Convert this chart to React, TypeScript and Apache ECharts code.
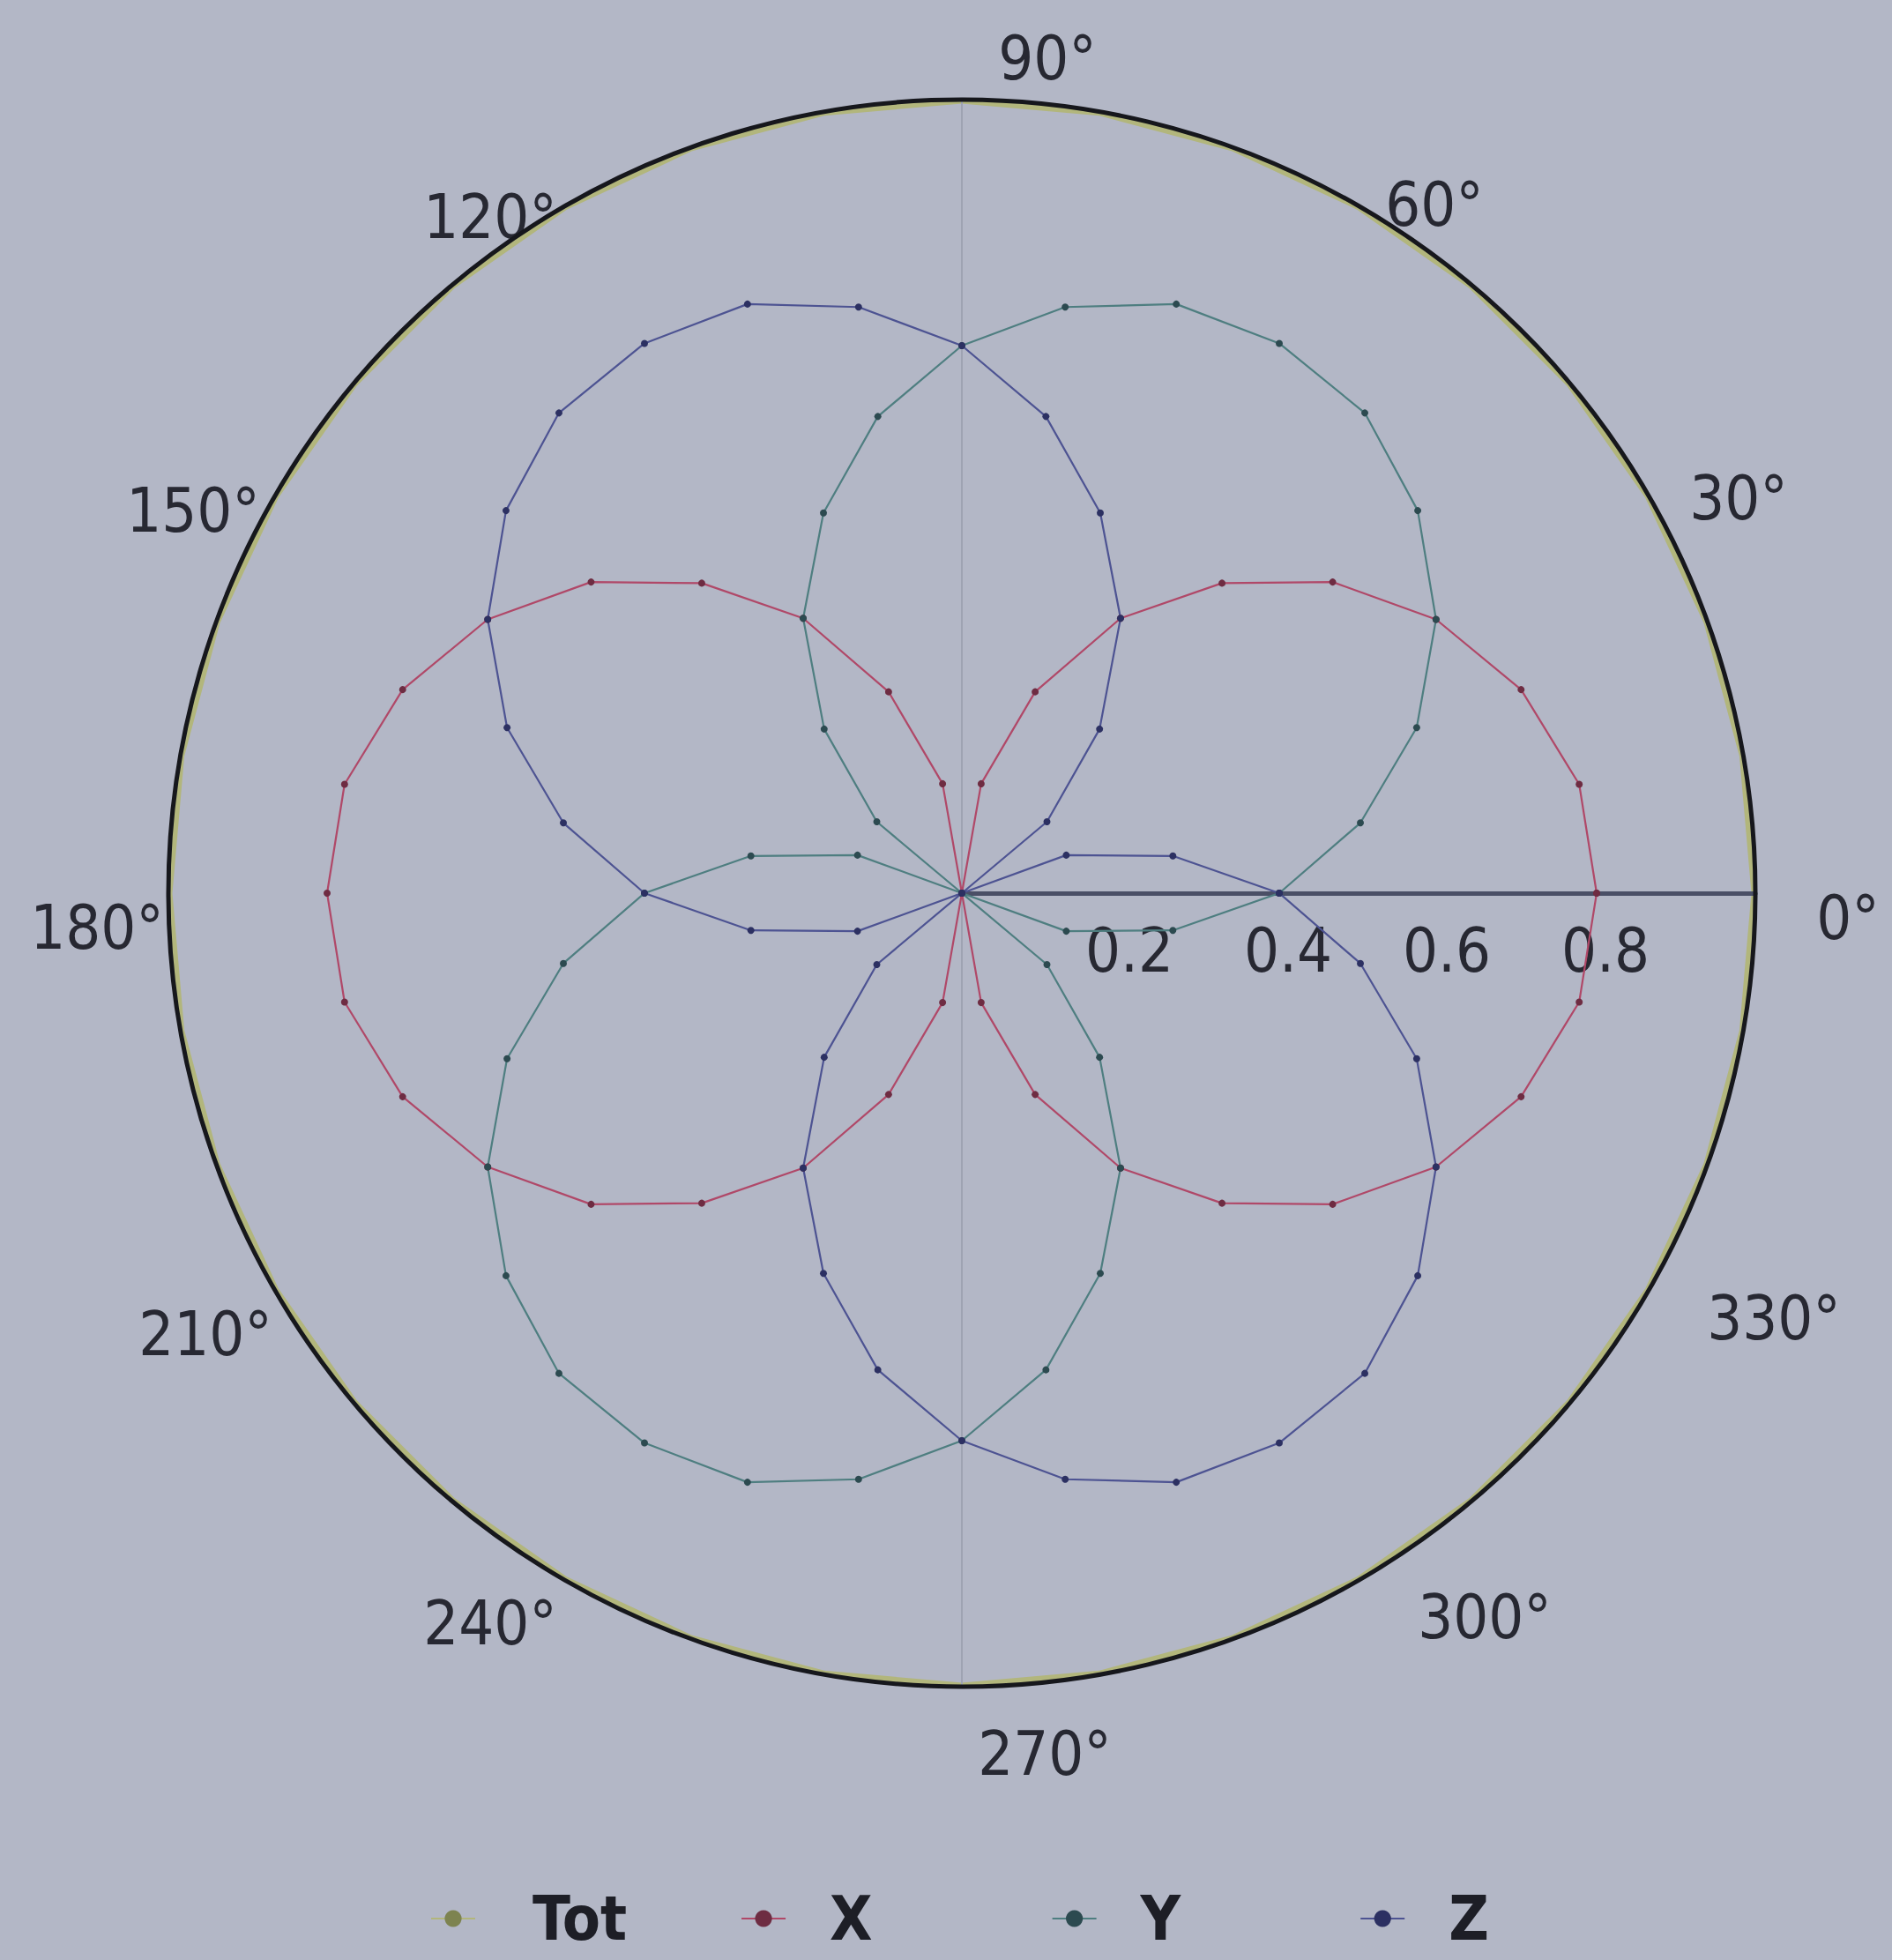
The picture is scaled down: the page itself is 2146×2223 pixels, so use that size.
import React, { useEffect, useRef } from "react";
import * as echarts from "echarts";

// ---- data ----
const ANGLES = [0, 10, 20, 30, 40, 50, 60, 70, 80, 90, 100, 110, 120, 130, 140, 150, 160, 170, 180, 190, 200, 210, 220, 230, 240, 250, 260, 270, 280, 290, 300, 310, 320, 330, 340, 350, 360];
const TOT = [1, 1, 1, 1, 1, 1, 1, 1, 1, 1, 1, 1, 1, 1, 1, 1, 1, 1, 1, 1, 1, 1, 1, 1, 1, 1, 1, 1, 1, 1, 1, 1, 1, 1, 1, 1, 1];
const X_VALUES = [0.8, 0.79, 0.75, 0.69, 0.61, 0.51, 0.4, 0.27, 0.14, 0, 0.14, 0.27, 0.4, 0.51, 0.61, 0.69, 0.75, 0.79, 0.8, 0.79, 0.75, 0.69, 0.61, 0.51, 0.4, 0.27, 0.14, 0, 0.14, 0.27, 0.4, 0.51, 0.61, 0.69, 0.75, 0.79, 0.8];
const Y_VALUES = [0.4, 0.51, 0.61, 0.69, 0.75, 0.79, 0.8, 0.79, 0.75, 0.69, 0.61, 0.51, 0.4, 0.27, 0.14, 0, 0.14, 0.27, 0.4, 0.51, 0.61, 0.69, 0.75, 0.79, 0.8, 0.79, 0.75, 0.69, 0.61, 0.51, 0.4, 0.27, 0.14, 0, 0.14, 0.27, 0.4];
const Z_VALUES = [0.4, 0.27, 0.14, 0, 0.14, 0.27, 0.4, 0.51, 0.61, 0.69, 0.75, 0.79, 0.8, 0.79, 0.75, 0.69, 0.61, 0.51, 0.4, 0.27, 0.14, 0, 0.14, 0.27, 0.4, 0.51, 0.61, 0.69, 0.75, 0.79, 0.8, 0.79, 0.75, 0.69, 0.61, 0.51, 0.4];
const SERIES_NAMES = ["Tot", "X", "Y", "Z"];
const ANGLE_TICKS = [0, 30, 60, 90, 120, 150, 180, 210, 240, 270, 300, 330];
const RADIUS_TICKS = [0.2, 0.4, 0.6, 0.8];

// ---- layout / style ----
const W = 2146;
const H = 2223;
const CX = 1091;
const CY = 1013;
const R = 900;
const FONT = '"Liberation Sans Narrow", "Arial Narrow", "DejaVu Sans Condensed", "Liberation Sans", sans-serif';
const LINE_COLORS = ["#b2b67c", "#b04868", "#4e7e80", "#4d5392"];
const MARK_COLORS = ["#7d8350", "#6e2c42", "#2c4a50", "#2c3062"];
// small per-label nudges of the angle labels (px), in ANGLE_TICKS order
const LABEL_NUDGE_X = [-10, 0, 21, 7, -50, -21, 4, -7, -50, 4, 78, 40];
const LABEL_NUDGE_Y = [10, 11, 28, -10, 42, 25, 21, 4, -17, 3, -24, -14];

export default function App() {
  const ref = useRef<HTMLDivElement>(null);
  useEffect(() => {
    if (!ref.current) return;
    const chart = echarts.init(ref.current, null, { renderer: "svg" });
    const values = [TOT, X_VALUES, Y_VALUES, Z_VALUES];
    const series = SERIES_NAMES.map((name, k) => ({
      name,
      type: "line",
      coordinateSystem: "polar",
      data: ANGLES.map((a, i) => [values[k][i], a]),
      symbol: "circle",
      symbolSize: k === 0 ? 0.1 : 8,
      showSymbol: k !== 0,
      z: k === 0 ? 1 : 3,
      silent: true,
      lineStyle: { color: LINE_COLORS[k], width: k === 0 ? 9 : 2.2 },
      itemStyle: { color: MARK_COLORS[k] },
      emphasis: { disabled: true },
    }));
    const graphics = ANGLE_TICKS.map((a, i) => {
      const rad = (a * Math.PI) / 180;
      const extra = a === 90 || a === 270 ? 75 : 0;
      return {
        type: "text",
        x: CX + 1000 * Math.cos(rad) + 15 + extra + LABEL_NUDGE_X[i],
        y: CY - 955 * Math.sin(rad) + 18 + LABEL_NUDGE_Y[i],
        silent: true,
        style: {
          text: a + "°",
          font: `70px ${FONT}`,
          fill: "#272832",
          align: "center",
          verticalAlign: "middle",
        },
      };
    });
    const legendTextBase = {
      fontSize: 70,
      lineHeight: 64,
      fontWeight: "bold",
      fontFamily: FONT,
      color: "#1d1e26",
    };
    chart.setOption({
      animation: false,
      backgroundColor: "#b3b7c6",
      polar: { center: [CX, CY], radius: R },
      angleAxis: {
        type: "value",
        min: 0,
        max: 360,
        interval: 90,
        startAngle: 0,
        clockwise: false,
        z: 2,
        axisLine: { show: true, lineStyle: { color: "#16171c", width: 5 } },
        axisTick: { show: false },
        axisLabel: { show: false },
        splitLine: {
          show: true,
          lineStyle: { color: ["rgba(0,0,0,0)", "#9ea3b2", "rgba(0,0,0,0)", "#9ea3b2"], width: 2 },
        },
      },
      radiusAxis: {
        type: "value",
        min: 0,
        max: 1,
        interval: 0.2,
        z: 2,
        axisLine: { show: true, lineStyle: { color: "#4a4f66", width: 5 } },
        axisTick: { show: false },
        splitLine: { show: false },
        axisLabel: {
          margin: -100,
          fontSize: 70,
          fontFamily: FONT,
          color: "#272832",
          padding: [0, 0, 0, 20],
          formatter: (v: number) => {
            const hit = RADIUS_TICKS.find((t) => Math.abs(t - v) < 1e-6);
            return hit === undefined ? "" : hit.toFixed(1);
          },
        },
      },
      legend: {
        data: SERIES_NAMES,
        left: 483,
        top: 2136,
        itemWidth: 50,
        itemHeight: 24,
        itemGap: 22,
        selectedMode: false,
        formatter: (name: string) => (name.length > 1 ? `{w|${name}}` : `{s|${name}}`),
        textStyle: {
          ...legendTextBase,
          rich: {
            w: { ...legendTextBase, padding: [0, 107, 0, 60] },
            s: { ...legendTextBase, padding: [0, 181, 0, 45] },
          },
        },
      },
      graphic: graphics,
      series,
    });
    return () => chart.dispose();
  }, []);
  return (
    <div
      ref={ref}
      style={{ position: "fixed", left: 0, top: 0, width: W, height: H }}
    />
  );
}
